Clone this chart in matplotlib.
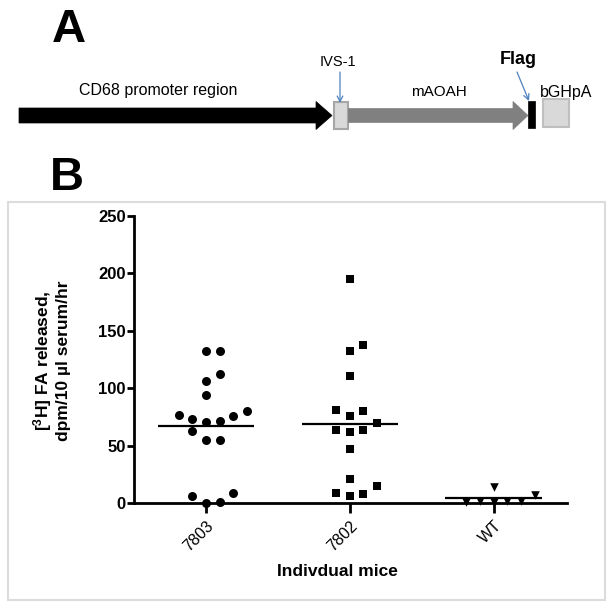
import matplotlib
matplotlib.use("Agg")
import matplotlib.pyplot as plt
from matplotlib.patches import Polygon, Rectangle, FancyArrowPatch
import numpy as np

plt.rcParams['font.family'] = ['Liberation Sans', 'DejaVu Sans']
plt.rcParams['mathtext.fontset'] = 'custom'
plt.rcParams['mathtext.rm'] = 'Liberation Sans'
plt.rcParams['mathtext.bf'] = 'Liberation Sans:bold'

# ---------------- data ----------------
groups = ["7803", "7802", "WT"]
vals_7803 = [132.7, 132.7, 106.0, 112.4, 93.6, 70.7, 71.6, 73.3, 75.3, 76.8, 80.0,
             62.9, 54.8, 54.8, 0.0, 0.6, 5.8, 8.7]
vals_7802 = [194.7, 132.7, 137.3, 110.7, 75.9, 79.7, 80.8, 61.7, 63.4, 63.2, 69.2,
             47.2, 6.1, 7.5, 8.7, 20.9, 14.5]
vals_wt = [1.0, 1.5, 2.0, 1.5, 0.5, 14.0, 7.2]
markers = ["o", "s", "v"]
yticks = [0, 50, 100, 150, 200, 250]

# ---------------- figure ----------------
W = H = 612
fig = plt.figure(figsize=(6.12, 6.12), dpi=100)

# overlay in pixel coordinates for panel A / frame / letters
ov = fig.add_axes([0, 0, 1, 1], zorder=0)
ov.set_xlim(0, W)
ov.set_ylim(H, 0)
ov.axis("off")

def arrow_poly(x0, x1, yc, body_h, head_h, head_len, color):
    xs = x1 - head_len
    pts = [(x0, yc - body_h), (xs, yc - body_h), (xs, yc - head_h), (x1, yc),
           (xs, yc + head_h), (xs, yc + body_h), (x0, yc + body_h)]
    ov.add_patch(Polygon(pts, closed=True, facecolor=color, edgecolor=color, lw=0.5))

# panel A
ov.text(69, 30, "A", fontsize=34, fontweight="bold", ha="center", va="center")
arrow_poly(19, 332, 115.5, 7.5, 14, 16, "black")
ov.add_patch(Rectangle((333.5, 102), 14, 27, facecolor="#d9d9d9", edgecolor="#a6a6a6", lw=1.5))
arrow_poly(348.5, 528, 115.5, 7, 14, 15, "#808080")
ov.add_patch(Rectangle((528, 101), 7, 27, facecolor="black", edgecolor="black", lw=0.5))
ov.add_patch(Rectangle((542.5, 99), 26, 28, facecolor="#d9d9d9", edgecolor="#bfbfbf", lw=1.5))
ov.text(79, 91, "CD68 promoter region", fontsize=11.5, ha="left", va="center")
ov.text(338, 62, "IVS-1", fontsize=10.5, ha="center", va="center")
ov.text(439, 92, "mAOAH", fontsize=11, ha="center", va="center")
ov.text(566, 92, "bGHpA", fontsize=11.5, ha="center", va="center")
ov.text(518, 59, "Flag", fontsize=13, fontweight="bold", ha="center", va="center")
blue = "#4f81bd"
ov.add_patch(FancyArrowPatch((340, 72), (340, 103), arrowstyle="->,head_length=4,head_width=2",
                             color=blue, lw=0.9, shrinkA=0, shrinkB=0))
ov.add_patch(FancyArrowPatch((517, 72), (529, 101), arrowstyle="->,head_length=4,head_width=2",
                             color=blue, lw=0.9, shrinkA=0, shrinkB=0))

# panel B frame + letter
ov.add_patch(Rectangle((8, 202), 597, 398, facecolor="none", edgecolor="#dcdcdc", lw=1.5))
ov.text(67, 178, "B", fontsize=34, fontweight="bold", ha="center", va="center")

# ---------------- scatter axes ----------------
left, right, y0px, y250px = 134, 567, 503, 215.7
ax = fig.add_axes([left / W, 1 - y0px / H, (right - left) / W, (y0px - y250px) / H], zorder=2)
ax.patch.set_alpha(0)
ax.set_xlim(-0.5, 2.51)
ax.set_ylim(0, 250)

def swarm(values, thr=10.0):
    order = [0, 1, -1, 2, -2, 3, -3, 4, -4, 5, -5]
    placed = []
    slots = []
    for v in values:
        for s in order:
            if all(not (ps == s and abs(pv - v) < thr) for ps, pv in placed):
                placed.append((s, v))
                slots.append(s)
                break
    return np.array(slots)

step = 0.095
msizes = [42, 32, 38]
for i, (vals, mk) in enumerate(zip([vals_7803, vals_7802, vals_wt], markers)):
    vals = np.array(vals)
    xs = i + swarm(vals) * step
    ax.scatter(xs, vals, marker=mk, s=msizes[i], color="black", linewidths=0,
               clip_on=False, zorder=3)
    m = vals.mean()
    ax.plot([i - 0.335, i + 0.335], [m, m], color="black", lw=1.6, zorder=4,
            solid_capstyle="butt")

for sp in ["top", "right"]:
    ax.spines[sp].set_visible(False)
for sp in ["left", "bottom"]:
    ax.spines[sp].set_linewidth(2.0)
ax.set_yticks(yticks)
ax.set_yticklabels([str(t) for t in yticks], fontsize=12, fontweight="bold")
ax.set_xticks(range(len(groups)))
ax.set_xticklabels(groups, fontsize=11.5, rotation=45, ha="right", va="top",
                   rotation_mode="anchor")
ax.tick_params(axis="y", length=5, width=2, pad=1)
ax.tick_params(axis="x", length=7, width=2, pad=4)

fig.text(337 / W, 1 - 572 / H, "Indivdual mice", fontsize=12.5, fontweight="bold",
         ha="center", va="center")
fig.text(51 / W, 1 - 361 / H, "[$\\mathbf{^{3}}$H] FA released,\ndpm/10 \u00b5l serum/hr",
         fontsize=12.5, fontweight="bold", rotation=90, ha="center", va="center",
         linespacing=1.15, multialignment="center")

fig.savefig("out.png", dpi=100)
